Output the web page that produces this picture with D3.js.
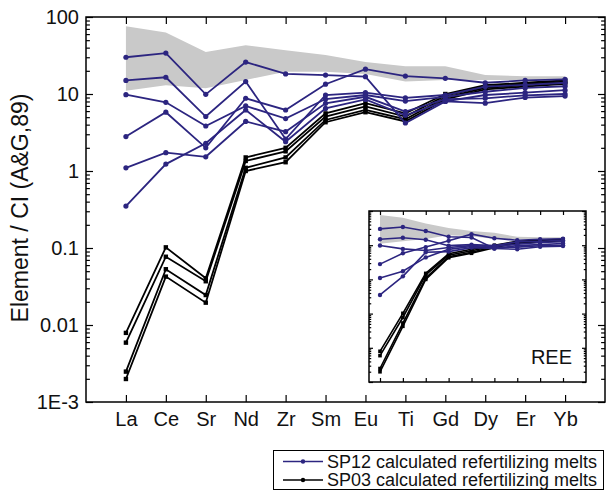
<!DOCTYPE html>
<html>
<head>
<meta charset="utf-8">
<script src="https://cdn.jsdelivr.net/npm/d3@7"></script>
<style>
  body { margin: 0; background: #fff; }
  svg { display: block; font-family: "Liberation Sans", Arial, Helvetica, sans-serif; }
</style>
</head>
<body>
<svg id="chart" width="606" height="492"></svg>
<script>
// elements on the x axis (spider diagram order)
const elements = ["La", "Ce", "Sr", "Nd", "Zr", "Sm", "Eu", "Ti", "Gd", "Dy", "Er", "Yb"];
const reeElements = ["La", "Ce", "Nd", "Sm", "Eu", "Gd", "Dy", "Er", "Yb"];

// grey field (upper / lower limits)
const bandUpper = [76, 63, 35, 43, 37, 32, 26, 23, 23, 17.6, 17, 17];
const bandLower = [11, 13, 11.9, 15.2, 19.5, 19.5, 18.2, 14.5, 15.2, 15.2, 15.2, 15.2];

// SP12 calculated refertilizing melts
const sp12a = [30, 34, 9.9, 26, 18.2, 17.6, 16.8, 4.2, 8.0, 9.7, 10.4, 11.2];
const sp12b = [2.8, 5.8, 2.0, 8.8, 6.2, 13.4, 21, 17.1, 16, 14, 15, 15.5];
const sp12c = [15, 16.5, 5.1, 14.5, 2.6, 9.7, 10.4, 8.9, 9.7, 12.5, 13.1, 14];
const sp12d = [9.8, 7.8, 3.84, 7.0, 4.8, 8.6, 9.7, 8.1, 9.2, 10.7, 12, 12.6];
const sp12e = [1.1, 1.73, 1.53, 4.4, 3.24, 7.56, 9.2, 5.9, 8.6, 8.8, 9.6, 10];
const sp12f = [0.35, 1.23, 2.29, 6.2, 2.4, 6.5, 8.5, 5.3, 8.0, 7.6, 9.0, 9.4];

// SP03 calculated refertilizing melts
const sp03a = [0.0079, 0.102, 0.0404, 1.5, 2.0, 5.6, 7.6, 5.6, 10, 13, 14, 15];
const sp03b = [0.0059, 0.077, 0.037, 1.35, 1.8, 5.1, 6.9, 5.1, 9.5, 12.5, 13.5, 14.5];
const sp03c = [0.00248, 0.053, 0.0245, 1.1, 1.5, 4.6, 6.2, 4.7, 9, 12, 13, 14];
const sp03d = [0.00199, 0.0425, 0.0195, 1.0, 1.3, 4.3, 5.8, 4.4, 8.5, 11.5, 12.5, 13.5];

const yTickValues = [0.001, 0.01, 0.1, 1, 10, 100];
const yTickLabels = ["1E-3", "0.01", "0.1", "1", "10", "100"];

const legendLabels = ["SP12 calculated refertilizing melts", "SP03 calculated refertilizing melts"];

const blue = "#2c2580";
const black = "#000";

const sp12 = [sp12a, sp12b, sp12c, sp12d, sp12e, sp12f];
const sp03 = [sp03a, sp03b, sp03c, sp03d];

// minor log ticks 2..9 per decade
const minorTicks = [];
yTickValues.slice(0, -1).forEach(d => {
    for (let m = 2; m <= 9; m++) minorTicks.push(m * d);
});

const svg = d3.select("#chart");

function drawPanel(g, cats, x, y, box, opts) {
    const [x0, x1, y1, y0] = box;
    const idx = cats.map(c => elements.indexOf(c));

    // grey field
    const area = d3.area()
        .x((d, i) => x(cats[i]))
        .y0((d, i) => y(bandLower[idx[i]]))
        .y1((d, i) => y(bandUpper[idx[i]]));
    g.append("path")
        .datum(idx)
        .attr("d", area)
        .attr("fill", "#c9c9c9");

    const line = d3.line()
        .x((d, i) => x(cats[i]))
        .y(d => y(d));

    sp03.forEach(series => {
        const vals = idx.map(i => series[i]);
        g.append("path")
            .datum(vals)
            .attr("d", line)
            .attr("fill", "none")
            .attr("stroke", black)
            .attr("stroke-width", opts.lw);
        g.selectAll(null)
            .data(vals)
            .enter().append("rect")
            .attr("x", (d, i) => x(cats[i]) - opts.r)
            .attr("y", d => y(d) - opts.r)
            .attr("width", opts.r * 2)
            .attr("height", opts.r * 2)
            .attr("fill", black);
    });

    sp12.forEach(series => {
        const vals = idx.map(i => series[i]);
        g.append("path")
            .datum(vals)
            .attr("d", line)
            .attr("fill", "none")
            .attr("stroke", blue)
            .attr("stroke-width", opts.lw);
        g.selectAll(null)
            .data(vals)
            .enter().append("circle")
            .attr("cx", (d, i) => x(cats[i]))
            .attr("cy", d => y(d))
            .attr("r", opts.r + 0.4)
            .attr("fill", blue);
    });

    // frame ticks (inward), top / bottom / left / right
    const tk = opts.tick;
    g.append("g")
        .attr("transform", `translate(0,${y1})`)
        .call(d3.axisTop(x).tickSizeInner(-tk).tickSizeOuter(0).tickFormat(""));
    g.append("g")
        .attr("transform", `translate(0,${y0})`)
        .call(d3.axisBottom(x).tickSizeInner(-tk).tickSizeOuter(0)
            .tickPadding(10).tickFormat(opts.labels ? (d => d) : ""));
    [[x0, d3.axisLeft, -1], [x1, d3.axisRight, 1]].forEach(([px, ax, side]) => {
        g.append("g")
            .attr("transform", `translate(${px},0)`)
            .call(ax(y).tickValues(minorTicks).tickSizeInner(-tk / 1.8).tickSizeOuter(0).tickFormat(""));
        g.append("g")
            .attr("transform", `translate(${px},0)`)
            .call(ax(y).tickValues(yTickValues).tickSizeInner(-tk).tickSizeOuter(0)
                .tickPadding(7)
                .tickFormat(opts.labels && side < 0 ? ((d, i) => yTickLabels[i]) : ""));
    });

    g.selectAll(".domain").remove();
    g.selectAll(".tick line").attr("stroke", "#000").attr("stroke-width", 1.2);
    g.selectAll(".tick text").attr("font-size", 20).attr("fill", "#111")
        .attr("font-family", '"Liberation Sans", Arial, sans-serif');

    g.append("rect")
        .attr("x", x0).attr("y", y1)
        .attr("width", x1 - x0).attr("height", y0 - y1)
        .attr("fill", "none")
        .attr("stroke", "#000")
        .attr("stroke-width", 1.5);
}

// main panel
const x = d3.scalePoint().domain(elements).range([86, 605]).padding(1);
const y = d3.scaleLog().domain([0.001, 100]).range([402, 17]);
drawPanel(svg.append("g"), elements, x, y, [86, 605, 17, 402],
    { lw: 1.8, r: 2.2, tick: 7, labels: true });

svg.append("text")
    .attr("transform", "translate(28,208) rotate(-90)")
    .attr("text-anchor", "middle")
    .attr("font-size", 23)
    .attr("fill", "#111")
    .text("Element / CI (A&G,89)");

// inset with REE only
const xi = d3.scalePoint().domain(reeElements).range([380, 563]);
const yi = d3.scaleLog().domain([0.001, 100]).range([382, 211]);
const inset = svg.append("g");
inset.append("rect")
    .attr("x", 369).attr("y", 211)
    .attr("width", 217).attr("height", 171)
    .attr("fill", "#fff");
drawPanel(inset, reeElements, xi, yi, [369, 586, 211, 382],
    { lw: 1.6, r: 1.8, tick: 4, labels: false });

inset.append("text")
    .attr("x", 572)
    .attr("y", 364)
    .attr("text-anchor", "end")
    .attr("font-size", 20)
    .attr("fill", "#111")
    .text("REE");

// legend
const legend = svg.append("g");
legend.append("rect")
    .attr("x", 273.5).attr("y", 450.5)
    .attr("width", 330).attr("height", 39)
    .attr("fill", "#fff")
    .attr("stroke", "#000")
    .attr("stroke-width", 1);

[blue, black].forEach((c, i) => {
    const ly = 461.5 + i * 18.5;
    legend.append("line")
        .attr("x1", 283).attr("x2", 323)
        .attr("y1", ly).attr("y2", ly)
        .attr("stroke", c)
        .attr("stroke-width", 1.5);
    legend.append("circle")
        .attr("cx", 303).attr("cy", ly)
        .attr("r", 2.2)
        .attr("fill", c);
    legend.append("text")
        .attr("x", 327).attr("y", ly)
        .attr("dy", "0.35em")
        .attr("font-size", 18)
        .attr("fill", "#111")
        .text(legendLabels[i]);
});
</script>
</body>
</html>
